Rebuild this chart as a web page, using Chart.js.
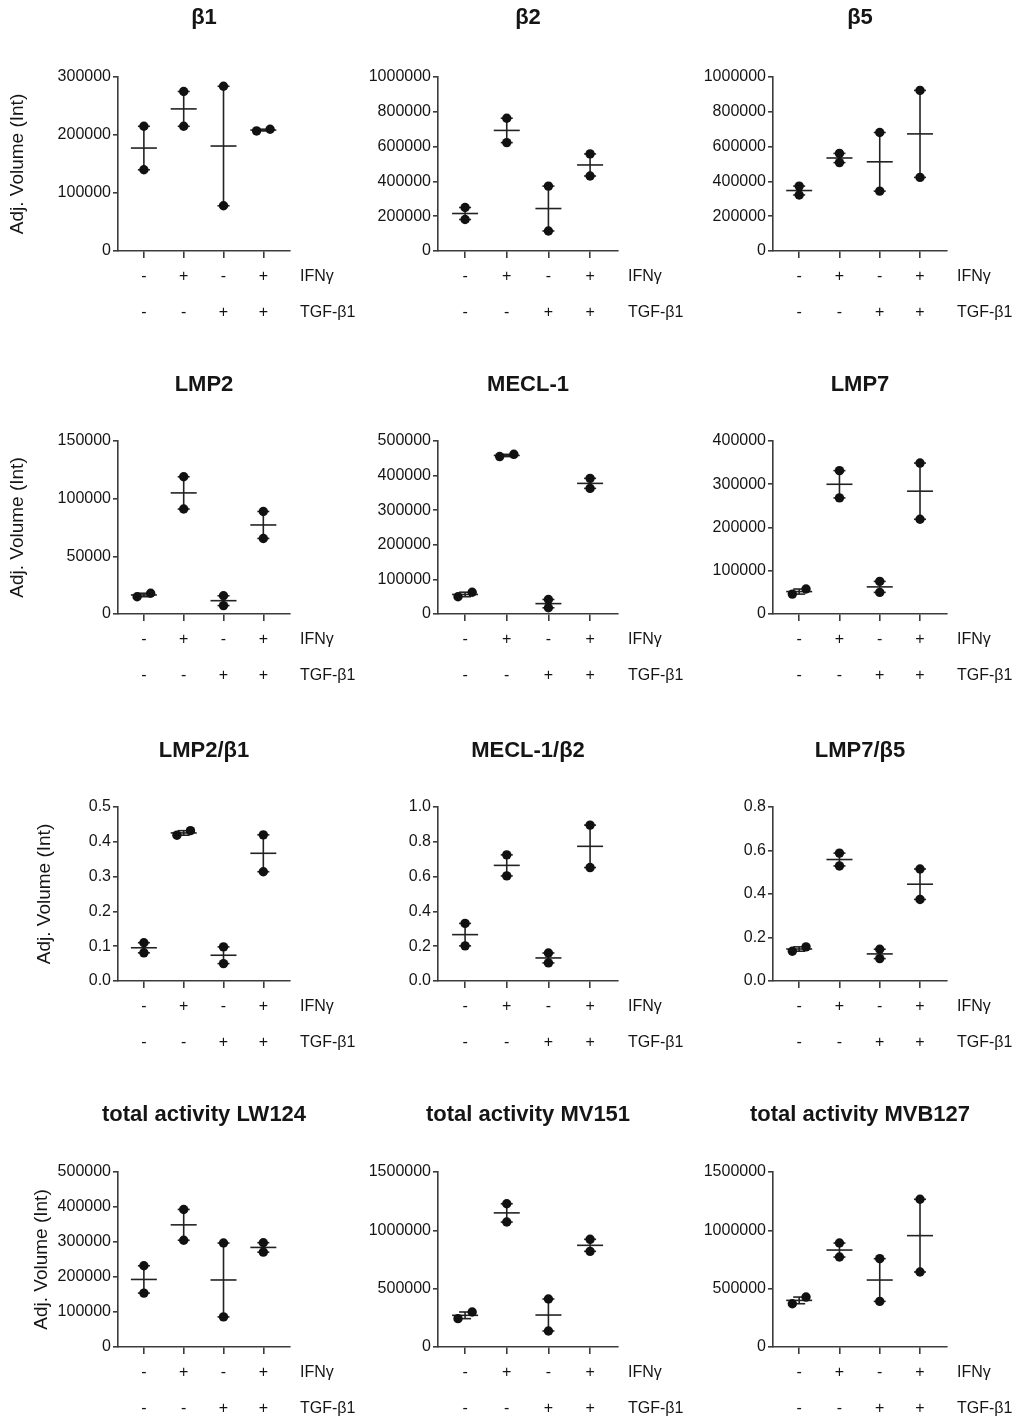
<!DOCTYPE html>
<html><head><meta charset="utf-8">
<script src="https://cdn.jsdelivr.net/npm/chart.js@4.4.1/dist/chart.umd.min.js"></script>
<style>
html,body{margin:0;padding:0;background:#fff;}
body{width:1018px;height:1421px;position:relative;overflow:hidden;}
canvas{position:absolute;}
</style>
</head><body>
<script>
// ---------------- data ----------------
const GROUP_IFN = ['-', '+', '-', '+'];
const GROUP_TGF = ['-', '-', '+', '+'];
const ROW_NAMES = ['IFNγ', 'TGF-β1'];
const Y_TITLE = 'Adj. Volume (Int)';

const TITLES = ['β1', 'β2', 'β5', 'LMP2', 'MECL-1', 'LMP7', 'LMP2/β1', 'MECL-1/β2', 'LMP7/β5',
  'total activity LW124', 'total activity MV151', 'total activity MVB127'];

// two replicate values per group (groups in order: -/-, +/-, -/+, +/+)
const BETA1   = [[215000, 140000], [275000, 215000], [284000, 78000], [207000, 210000]];
const BETA2   = [[250000, 181000], [763000, 623000], [373000, 115000], [558000, 431000]];
const BETA5   = [[373000, 322000], [561000, 508000], [681000, 344000], [923000, 423000]];
const LMP2    = [[15000, 18000], [119000, 91000], [15800, 7300], [88900, 65500]];
const MECL1   = [[50000, 63000], [455000, 461500], [42000, 18000], [392000, 363000]];
const LMP7    = [[46000, 57700], [331500, 268400], [75400, 50000], [349000, 219000]];
const LMP2_B1 = [[0.110, 0.081], [0.419, 0.432], [0.098, 0.050], [0.420, 0.314]];
const MECL_B2 = [[0.331, 0.202], [0.725, 0.604], [0.161, 0.104], [0.896, 0.652]];
const LMP7_B5 = [[0.137, 0.157], [0.588, 0.529], [0.146, 0.103], [0.515, 0.375]];
const LW124   = [[232000, 154000], [393000, 305000], [297000, 86000], [298000, 271000]];
const MV151   = [[243000, 300000], [1228000, 1071000], [411000, 137000], [923000, 820000]];
const MVB127  = [[371000, 428000], [891000, 771000], [757000, 391000], [1266000, 643000]];

// y tick labels
const TICKS_300K = ['0', '100000', '200000', '300000'];
const TICKS_1M   = ['0', '200000', '400000', '600000', '800000', '1000000'];
const TICKS_150K = ['0', '50000', '100000', '150000'];
const TICKS_500K = ['0', '100000', '200000', '300000', '400000', '500000'];
const TICKS_400K = ['0', '100000', '200000', '300000', '400000'];
const TICKS_05   = ['0.0', '0.1', '0.2', '0.3', '0.4', '0.5'];
const TICKS_10   = ['0.0', '0.2', '0.4', '0.6', '0.8', '1.0'];
const TICKS_08   = ['0.0', '0.2', '0.4', '0.6', '0.8'];
const TICKS_15M  = ['0', '500000', '1000000', '1500000'];

const PANEL_DATA  = [BETA1, BETA2, BETA5, LMP2, MECL1, LMP7, LMP2_B1, MECL_B2, LMP7_B5, LW124, MV151, MVB127];
const PANEL_TICKS = [TICKS_300K, TICKS_1M, TICKS_1M, TICKS_150K, TICKS_500K, TICKS_400K, TICKS_05, TICKS_10, TICKS_08, TICKS_500K, TICKS_15M, TICKS_15M];

// ---------------- layout / style ----------------
const ROWS = [{yt: 18, ct: 77, cb: 251}, {yt: 385, ct: 441, cb: 614}, {yt: 751, ct: 807, cb: 981}, {yt: 1115, ct: 1172, cb: 1347}];
const COLS = [{cl: 0, al: 118, ar: 290}, {cl: 330, al: 438, ar: 618}, {cl: 660, al: 773, ar: 947}];
const YTITLE_X = [18, 18, 45, 42];

const FONT = "'Liberation Sans', Arial, Helvetica, sans-serif";
const TEXT = '#151515';
const AXIS = '#3c3c3c';
const MARK = '#222';
const TICK_SIZE = 16, TICK_LH = 2.25;
const X_TICK_LEN = 7, X_TICK_PAD = 1;
const TITLE_SIZE = 22;
const YT_SIZE = 19, YT_LH = 1.2, YT_PAD = 4;
const X_AXIS_H = 80, RIGHT_PAD = 72, TOP_GAP = 18;

// panel title (centred over the plot area) and the row names of the condition table
const panelTextPlugin = {
  id: 'panelText',
  afterDraw(chart, args, opts) {
    const xs = chart.scales.x;
    const ctx = chart.ctx;
    const ca = chart.chartArea;
    const lh = TICK_SIZE * TICK_LH;
    ctx.save();
    ctx.fillStyle = TEXT;
    ctx.textBaseline = 'middle';
    ctx.textAlign = 'center';
    ctx.font = 'bold ' + TITLE_SIZE + 'px ' + FONT;
    ctx.fillText(opts.title, (ca.left + ca.right) / 2, TOP_GAP);
    ctx.font = TICK_SIZE + 'px ' + FONT;
    ctx.textAlign = 'left';
    ROW_NAMES.forEach((n, i) => {
      ctx.fillText(n, ca.right + 10, xs.top + X_TICK_LEN + X_TICK_PAD + lh / 2 + i * lh);
    });
    ctx.restore();
  }
};

PANEL_DATA.forEach((groups, i) => {
  const r = Math.floor(i / 3), c = i % 3;
  const row = ROWS[r], col = COLS[c];
  const T = row.yt - TOP_GAP;
  const W = col.ar + RIGHT_PAD - col.cl;
  const H = row.cb + X_AXIS_H - T;
  const padL = c === 0 ? YTITLE_X[r] - (YT_SIZE * YT_LH / 2 + YT_PAD) : 0;
  const yWidth = col.al - col.cl - padL;

  const tickLabels = PANEL_TICKS[i];
  const tickVals = tickLabels.map(parseFloat);
  const yMax = tickVals[tickVals.length - 1];

  const pts = [], means = [];
  const errSets = [];
  groups.forEach((pair, g) => {
    const lo = Math.min(pair[0], pair[1]), hi = Math.max(pair[0], pair[1]);
    const close = (hi - lo) < 0.045 * yMax;
    const off = close ? 0.17 : 0;
    pts.push({x: g - off, y: lo}, {x: g + off, y: hi});
    const mean = (pair[0] + pair[1]) / 2;
    means.push({x: g, y: mean});
    errSets.push({
      type: 'line',
      data: [{x: g, y: lo}, {x: g, y: hi}],
      borderColor: MARK, borderWidth: 1.6,
      pointStyle: 'line', pointRadius: 6, pointBorderWidth: 1.6, pointBorderColor: MARK,
      showLine: true, fill: false, tension: 0
    });
  });

  const canvas = document.createElement('canvas');
  canvas.width = W; canvas.height = H;
  canvas.style.left = col.cl + 'px'; canvas.style.top = T + 'px';
  canvas.style.width = W + 'px'; canvas.style.height = H + 'px';
  document.body.appendChild(canvas);

  const datasets = [
    {type: 'scatter', data: pts, pointStyle: 'circle', pointRadius: 4.7, backgroundColor: '#111', borderColor: '#111', pointBorderWidth: 0},
    {type: 'scatter', data: means, pointStyle: 'line', pointRadius: 13, pointBorderWidth: 1.6, borderColor: MARK, pointBorderColor: MARK}
  ].concat(errSets);

  new Chart(canvas, {
    type: 'scatter',
    data: {datasets},
    plugins: [panelTextPlugin],
    options: {
      responsive: false,
      animation: false,
      devicePixelRatio: 1,
      events: [],
      layout: {padding: {left: padL, right: RIGHT_PAD, top: row.ct - T, bottom: 0}},
      plugins: {
        legend: {display: false},
        tooltip: {enabled: false},
        title: {display: false},
        panelText: {title: TITLES[i]}
      },
      scales: {
        x: {
          type: 'linear', min: -0.65, max: 3.67,
          afterBuildTicks: s => { s.ticks = GROUP_IFN.map((_, k) => ({value: k})); },
          afterFit: s => { s.height = X_AXIS_H; },
          ticks: {
            autoSkip: false, maxRotation: 0, minRotation: 0, padding: X_TICK_PAD, color: TEXT,
            font: {family: FONT, size: TICK_SIZE, lineHeight: TICK_LH},
            callback: (v, k) => [GROUP_IFN[k], GROUP_TGF[k]]
          },
          grid: {drawOnChartArea: false, drawTicks: true, tickLength: X_TICK_LEN, color: AXIS, lineWidth: 1.6},
          border: {display: true, color: AXIS, width: 1.6}
        },
        y: {
          type: 'linear', min: 0, max: yMax,
          afterBuildTicks: s => { s.ticks = tickVals.map(v => ({value: v})); },
          afterFit: s => { s.width = yWidth; },
          ticks: {
            autoSkip: false, padding: 2, color: TEXT,
            font: {family: FONT, size: TICK_SIZE},
            callback: (v, k) => tickLabels[k]
          },
          grid: {drawOnChartArea: false, drawTicks: true, tickLength: 5, color: AXIS, lineWidth: 1.6},
          border: {display: true, color: AXIS, width: 1.6},
          title: {
            display: c === 0, text: Y_TITLE, color: TEXT,
            font: {family: FONT, size: YT_SIZE, lineHeight: YT_LH},
            padding: {top: YT_PAD, bottom: 0}
          }
        }
      }
    }
  });
});
</script>
</body></html>
